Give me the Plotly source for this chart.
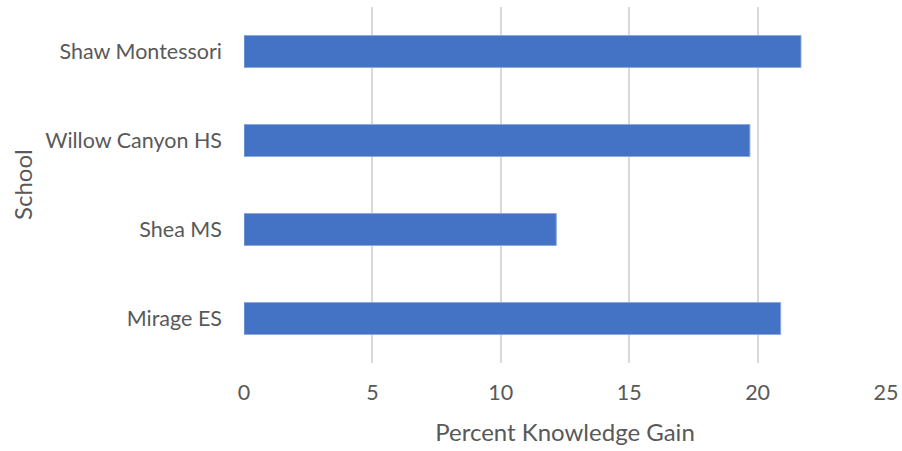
import plotly.graph_objects as go

schools = ["Mirage ES", "Shea MS", "Willow Canyon HS", "Shaw Montessori"]
gains = [20.9, 12.16, 19.7, 21.69]
x_ticks = [0, 5, 10, 15, 20, 25]

fig = go.Figure(go.Bar(
    y=schools, x=gains, orientation="h",
    marker=dict(color="#4472C4", line=dict(color="#8EA9DB", width=1)),
    width=0.36,
))

font_family = "Lato, Open Sans, sans-serif"
fig.update_layout(
    width=902, height=451,
    margin=dict(l=244, r=16, t=7, b=88),
    plot_bgcolor="white", paper_bgcolor="white",
    showlegend=False,
    font=dict(family=font_family, color="#595959", size=21.5),
)
fig.update_xaxes(
    range=[0, 25], tickvals=x_ticks, showgrid=True, gridcolor="#D9D9D9", gridwidth=2,
    zeroline=False, showline=False, ticks="", ticklabelstandoff=14, automargin=False,
    title=dict(text="Percent Knowledge Gain", font=dict(size=24, color="#595959"), standoff=20),
)
fig.update_yaxes(
    categoryorder="array", categoryarray=schools, showgrid=False,
    showline=False, zeroline=False, ticks="", ticklabelstandoff=21, automargin=False,
)
fig.add_annotation(
    text="School", textangle=-90, xref="paper", yref="paper",
    x=(22 - 244) / 642, y=0.5, xanchor="center", yanchor="middle",
    showarrow=False, font=dict(size=24, color="#595959"),
)
fig.write_html("out.html")
